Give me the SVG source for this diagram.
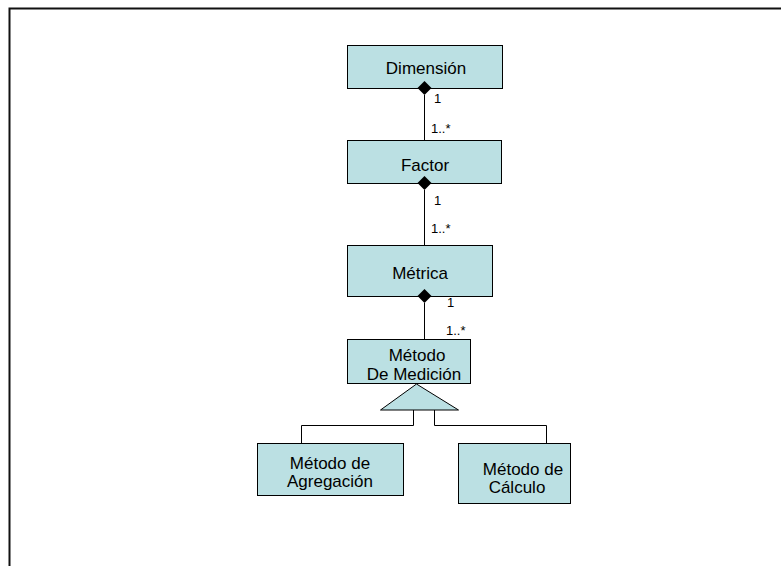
<svg xmlns="http://www.w3.org/2000/svg" width="781" height="566" viewBox="0 0 781 566">
  <style>
    .box { fill: #BBE0E3; stroke: #000; stroke-width: 1; }
    .lbl { font-family: "Liberation Sans", Arial, sans-serif; font-size: 17px; fill: #000; text-anchor: middle; }
    .mult { font-family: "Liberation Sans", Arial, sans-serif; font-size: 13px; fill: #000; }
    .line { fill: none; stroke: #000; stroke-width: 1; }
    .dia { fill: #000; }
  </style>
  <rect width="781" height="566" fill="#fff"/>
  <!-- page frame -->
  <path d="M9.5,566 V8.5 H781" fill="none" stroke="#111" stroke-width="2"/>

  <g id="dimension">
    <rect class="box" x="347.5" y="45.5" width="155" height="43"/>
    <text class="lbl" x="426" y="74">Dimensión</text>
  </g>
  <g id="factor">
    <rect class="box" x="347.5" y="140.5" width="154" height="43"/>
    <text class="lbl" x="425" y="171">Factor</text>
  </g>
  <g id="metrica">
    <rect class="box" x="347.5" y="245.5" width="145" height="51"/>
    <text class="lbl" x="420" y="279">Métrica</text>
  </g>
  <g id="metodo-medicion">
    <rect class="box" x="347.5" y="339.5" width="123" height="44"/>
    <text class="lbl" x="417" y="361">Método</text>
    <text class="lbl" x="414" y="380">De Medición</text>
  </g>
  <g id="metodo-agregacion">
    <rect class="box" x="257.5" y="443.5" width="146" height="52"/>
    <text class="lbl" x="330" y="469">Método de</text>
    <text class="lbl" x="330" y="487">Agregación</text>
  </g>
  <g id="metodo-calculo">
    <rect class="box" x="458.5" y="443.5" width="112" height="60"/>
    <text class="lbl" x="523" y="475">Método de</text>
    <text class="lbl" x="517" y="493">Cálculo</text>
  </g>

  <g id="connectors">
    <!-- compositions: diamond on the whole side -->
    <line class="line" x1="424.5" y1="95" x2="424.5" y2="140"/>
    <path class="dia" d="M424.5,81 L431.5,88 L424.5,95 L417.5,88 Z"/>
    <line class="line" x1="424.5" y1="190" x2="424.5" y2="245"/>
    <path class="dia" d="M424.5,176 L431.5,183 L424.5,190 L417.5,183 Z"/>
    <line class="line" x1="424.5" y1="303" x2="424.5" y2="339"/>
    <path class="dia" d="M424.5,289 L431.5,296 L424.5,303 L417.5,296 Z"/>
    <text class="mult" x="434" y="103">1</text>
    <text class="mult" x="431" y="133">1..*</text>
    <text class="mult" x="434" y="205">1</text>
    <text class="mult" x="431" y="233">1..*</text>
    <text class="mult" x="447" y="307">1</text>
    <text class="mult" x="446" y="335">1..*</text>
    <!-- generalization -->
    <path class="box" d="M416.5,384 L458.5,410 L380.5,410 Z"/>
    <path class="line" d="M413.5,410 V425.5 H301.5 V443"/>
    <path class="line" d="M434.5,410 V425.5 H546.5 V443"/>
  </g>
</svg>
